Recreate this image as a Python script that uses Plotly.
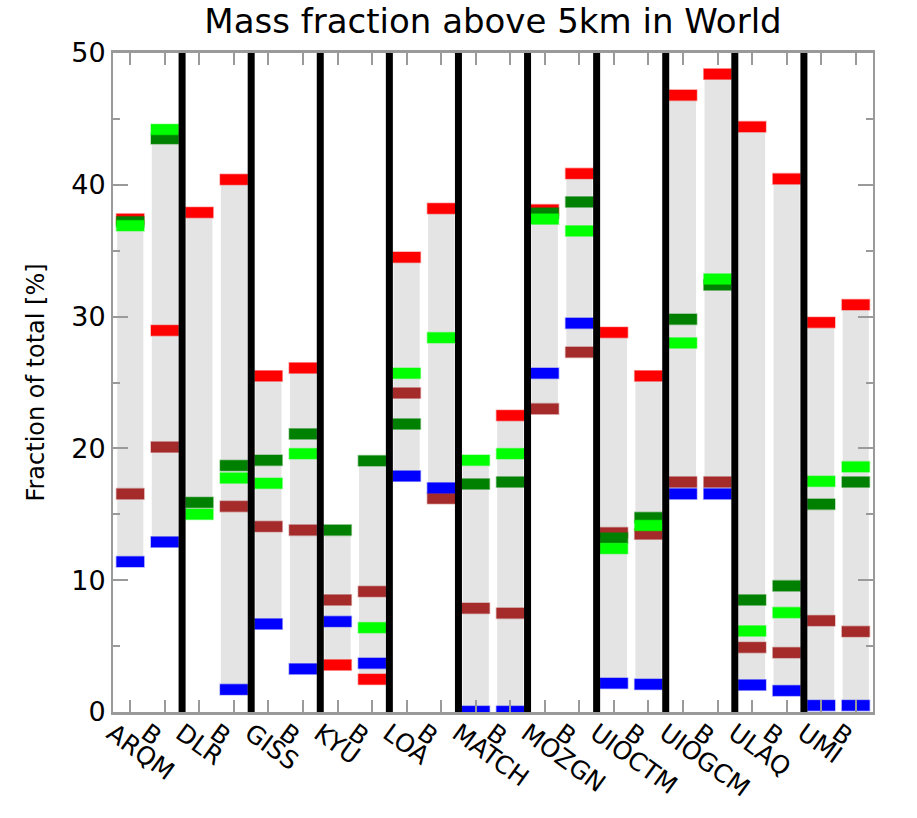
import plotly.graph_objects as go

# Models; each has an "A" and a "B" experiment, interleaved A, B, A, B, ...
models = ["ARQM", "DLR", "GISS", "KYU", "LOA", "MATCH",
          "MOZGN", "UIOCTM", "UIOGCM", "ULAQ", "UMI"]

# Mass fraction above 5 km [%] per component (None = not available)
red_vals = [37.4, 28.95, 37.9, 40.4, 25.5, 26.1, 3.57, 2.48, 34.5, 38.2, None, 22.5,
            38.1, 40.85, 28.8, 25.5, 46.8, 48.4, 44.4, 40.45, 29.56, 30.9]
brown_vals = [16.55, 20.1, None, 15.6, 14.07, 13.8, 8.5, 9.14, 24.2, 16.2, 7.87, 7.5,
              23.0, 27.3, 13.6, 13.5, 17.45, 17.45, 4.9, 4.5, 6.93, 6.1]
blue_vals = [11.4, 12.9, None, 1.7, 6.68, 3.27, 6.86, 3.7, 17.9, 17.0, 0.05, 0.05,
             25.7, 29.5, 2.18, 2.1, 16.55, 16.55, 2.05, 1.62, 0.5, 0.5]
green_vals = [37.2, 43.5, 15.9, 18.7, 19.1, 21.1, 13.8, 19.06, 21.85, None, 17.3, 17.45,
              37.85, 38.7, 13.2, 14.75, 29.8, 32.4, 8.5, 9.57, 15.77, 17.45]
lime_vals = [36.9, 44.2, 15.0, 17.75, 17.35, 19.6, None, 6.4, 25.7, 28.4, 19.1, 19.6,
             37.4, 36.5, 12.4, 14.15, 28.0, 32.85, 6.15, 7.54, 17.5, 18.6]

y_ticks = [0, 10, 20, 30, 40, 50]
y_minor = [5, 15, 25, 35, 45]

# x positions: A at i+0.25, B at i+0.75
xpos = []
tick_text = []
for i, m in enumerate(models):
    xpos += [i + 0.25, i + 0.75]
    tick_text += [m, "B"]

BAR_W = 0.4
MARK_H = 0.8

fig = go.Figure()

# grey range bars spanning all components of each experiment
lo, hi = [], []
for k in range(len(xpos)):
    vals = [s[k] for s in (red_vals, brown_vals, blue_vals, green_vals, lime_vals)
            if s[k] is not None]
    lo.append(min(vals))
    hi.append(max(vals))
fig.add_trace(go.Bar(
    x=xpos, y=[h - l for h, l in zip(hi, lo)], base=lo, width=BAR_W,
    marker=dict(color="#e4e4e4", line=dict(color="white", width=1.5)),
    hoverinfo="skip", showlegend=False))

series = [
    ("brown", brown_vals, "#a52a2a", "rgba(165,42,42,0.35)"),
    ("blue", blue_vals, "#0000ff", "rgba(0,0,255,0.35)"),
    ("red", red_vals, "#ff0000", "rgba(255,0,0,0.35)"),
    ("green", green_vals, "#008000", "rgba(0,128,0,0.35)"),
    ("lime", lime_vals, "#00ff00", "rgba(0,255,0,0.35)"),
]
for name, vals, col, edge in series:
    xs = [x for x, v in zip(xpos, vals) if v is not None]
    vs = [v for v in vals if v is not None]
    fig.add_trace(go.Bar(
        x=xs, y=[MARK_H] * len(vs), base=[v - MARK_H / 2 for v in vs],
        width=BAR_W, name=name,
        marker=dict(color=col, line=dict(color=edge, width=1.5)),
        showlegend=False))

# thick black separators between models
sep_x, sep_y = [], []
for i in range(1, len(models)):
    sep_x += [i, i, None]
    sep_y += [0, 50, None]
fig.add_trace(go.Scatter(x=sep_x, y=sep_y, mode="lines",
                         line=dict(color="black", width=7),
                         hoverinfo="skip", showlegend=False))

axis_grey = "#9a9a9a"
tick_font = dict(family="DejaVu Sans", size=27, color="black")

fig.update_layout(
    width=917, height=818,
    margin=dict(l=113, r=44, t=53, b=106),
    paper_bgcolor="white", plot_bgcolor="white",
    barmode="overlay",
    title=dict(text="Mass fraction above 5km in World",
               x=0.5, xref="paper", xanchor="center",
               y=1 - 21 / 818, yref="container", yanchor="middle",
               font=dict(family="DejaVu Sans", size=34, color="black")),
    xaxis=dict(range=[0, 11], tickmode="array", tickvals=xpos, ticktext=tick_text,
               tickangle=36, ticks="inside", ticklen=12, tickwidth=2,
               tickcolor=axis_grey, showline=True, linecolor=axis_grey, linewidth=3,
               mirror="ticks", showgrid=False, zeroline=False,
               ticklabelshift=-18, ticklabelstandoff=-6,
               tickfont=dict(family="DejaVu Sans", size=25, color="black")),
    yaxis=dict(range=[0, 50], tickmode="array", tickvals=y_ticks,
               ticks="inside", ticklen=15, tickwidth=2, tickcolor=axis_grey,
               minor=dict(tickmode="array", tickvals=y_minor, ticks="inside",
                          ticklen=7, tickwidth=2, tickcolor=axis_grey),
               showline=True, linecolor=axis_grey, linewidth=2, mirror="ticks",
               showgrid=False, zeroline=False, tickfont=tick_font,
               title=dict(text="Fraction of total [%]",
                          font=dict(family="DejaVu Sans", size=24, color="black"),
                          standoff=20)),
    yaxis2=dict(range=[0, 50], overlaying="y", side="right", tickmode="array",
                tickvals=y_ticks, ticks="", showgrid=False, zeroline=False,
                showline=False, tickfont=tick_font),
)

fig.write_html("out.html")
